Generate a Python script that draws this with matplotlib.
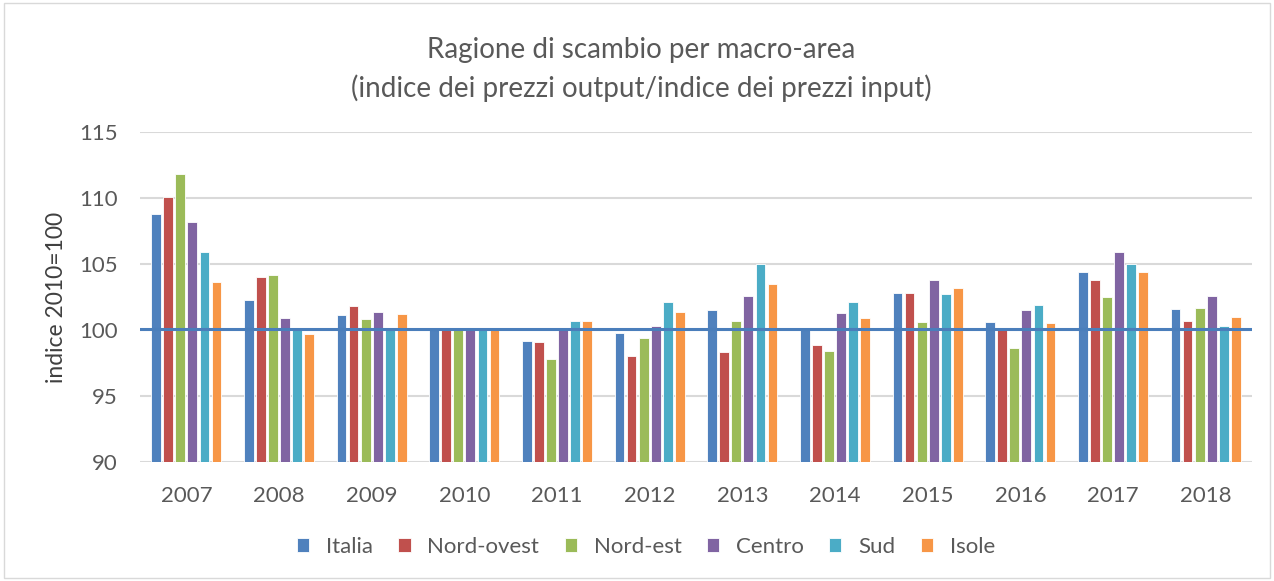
import numpy as np
import matplotlib
matplotlib.use("Agg")
from matplotlib import pyplot as plt
from matplotlib.patches import Rectangle

plt.rcParams['font.family'] = ['Lato', 'DejaVu Sans']

years = ["2007", "2008", "2009", "2010", "2011", "2012", "2013", "2014", "2015", "2016", "2017", "2018"]
series_names = ["Italia", "Nord-ovest", "Nord-est", "Centro", "Sud", "Isole"]
colors = ["#4F81BD", "#C0504D", "#9BBB59", "#8064A2", "#4BACC6", "#F79646"]

italia = [108.8, 102.3, 101.1, 100.0, 99.2, 99.8, 101.5, 100.0, 102.8, 100.6, 104.4, 101.6]
nord_ovest = [110.1, 104.0, 101.8, 100.0, 99.1, 98.0, 98.3, 98.9, 102.8, 100.0, 103.8, 100.7]
nord_est = [111.8, 104.2, 100.8, 100.0, 97.8, 99.4, 100.7, 98.4, 100.6, 98.6, 102.5, 101.7]
centro = [108.2, 100.9, 101.4, 100.0, 100.1, 100.3, 102.6, 101.3, 103.8, 101.5, 105.9, 102.6]
sud = [105.9, 100.1, 100.0, 100.0, 100.7, 102.1, 105.0, 102.1, 102.7, 101.9, 105.0, 100.3]
isole = [103.6, 99.7, 101.2, 100.0, 100.7, 101.4, 103.5, 100.9, 103.2, 100.5, 104.4, 101.0]
base_line = 100.1

data = [italia, nord_ovest, nord_est, centro, sud, isole]

W, H = 1274, 581
fig = plt.figure(figsize=(W / 100, H / 100), dpi=100)
ax = fig.add_axes([140 / W, 1 - 462 / H, (1252 - 140) / W, (462 - 132) / H])

x = np.arange(len(years))
slot = 0.13
bw = 0.105
for k, (vals, name, c) in enumerate(zip(data, series_names, colors)):
    offs = (k - 2.5) * slot
    ax.bar(x + offs, np.array(vals) - 90, bottom=90, width=bw, color=c,
           edgecolor="white", linewidth=0.6, label=name, zorder=3)

ax.axhline(base_line, color="#4A7EBB", lw=2.2, zorder=4)

ax.set_xlim(-0.5, len(years) - 0.5)
ax.set_ylim(90, 115)
ax.set_yticks([90, 95, 100, 105, 110, 115])
ax.set_xticks(x)
ax.set_xticklabels(years)
ax.yaxis.grid(True, color="#D9D9D9", lw=1.5, zorder=0)
ax.set_axisbelow(True)
for s in ax.spines.values():
    s.set_visible(False)
ax.tick_params(axis="both", length=0, labelsize=16, colors="#595959")
ax.tick_params(axis="x", pad=17)
ax.tick_params(axis="y", pad=16)

fig.text(57 / W, 1 - 297 / H, "indice 2010=100", rotation=90, ha="center", va="center",
         fontsize=16.5, color="#404040")

fig.text(0.503, 1 - 50 / H, "Ragione di scambio per macro-area", ha="center", va="center",
         fontsize=20, color="#595959")
fig.text(0.503, 1 - 88 / H, "(indice dei prezzi output/indice dei prezzi input)", ha="center",
         va="center", fontsize=20, color="#595959")

leg = fig.legend(loc="center", bbox_to_anchor=(0.507, 1 - 547 / H), ncol=6, frameon=False,
                 fontsize=16, handlelength=0.55, handleheight=0.55, columnspacing=1.15,
                 handletextpad=0.75)
for t in leg.get_texts():
    t.set_color("#595959")

fig.patches.append(Rectangle((0.003, 0.005), 0.994, 0.99, transform=fig.transFigure,
                             fill=False, edgecolor="#D9D9D9", lw=1))

fig.savefig("out.png", dpi=100)
